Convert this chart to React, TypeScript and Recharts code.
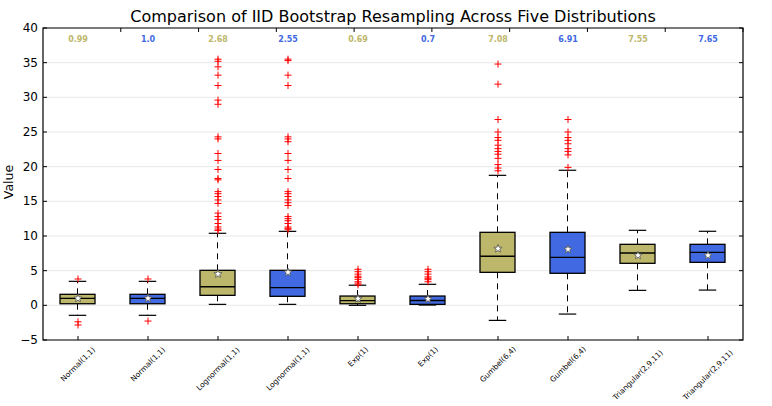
import {
  ComposedChart,
  Bar,
  Scatter,
  XAxis,
  YAxis,
  CartesianGrid,
  ReferenceArea,
} from 'recharts';

const categories = [
  'Normal(1,1)', 'Normal(1,1)', 'Lognormal(1,1)', 'Lognormal(1,1)', 'Exp(1)',
  'Exp(1)', 'Gumbel(6,4)', 'Gumbel(6,4)', 'Triangular(2,9,11)', 'Triangular(2,9,11)',
];
const medians = [0.99, 1.0, 2.68, 2.55, 0.69, 0.7, 7.08, 6.91, 7.55, 7.65];
const medianText = ['0.99', '1.0', '2.68', '2.55', '0.69', '0.7', '7.08', '6.91', '7.55', '7.65'];
const q1 = [0.23, 0.23, 1.44, 1.3, 0.23, 0.14, 4.76, 4.62, 6.06, 6.2];
const q3 = [1.59, 1.59, 5.05, 5.05, 1.34, 1.34, 10.53, 10.53, 8.8, 8.8];
const whiskerLow = [-1.44, -1.44, 0.14, 0.14, 0.0, 0.04, -2.17, -1.26, 2.16, 2.2];
const whiskerHigh = [3.46, 3.46, 10.39, 10.67, 2.9, 3.03, 18.75, 19.48, 10.82, 10.68];
const means = [1.0, 1.0, 4.52, 4.76, 0.95, 0.92, 8.17, 8.08, 7.2, 7.2];
const outliers: number[][] = [
  [3.8, -2.37, -2.84],
  [3.8, -2.27],
  [35.5, 35.2, 34.4, 33.2, 31.7, 29.6, 29.0, 24.3, 24.0, 21.9, 20.9, 19.6, 18.3, 18.1,
    16.4, 16.1, 15.7, 15.2, 14.7, 13.3, 12.8, 12.4, 11.8, 11.3, 11.0, 10.8],
  [35.5, 35.3, 33.2, 31.7, 24.3, 24.0, 23.6, 21.9, 20.9, 19.6, 18.3, 16.4, 16.1, 15.7,
    15.2, 14.8, 14.4, 12.8, 12.5, 12.2, 11.8, 11.3, 11.1, 10.9],
  [5.2, 4.85, 4.5, 4.2, 4.0, 3.75, 3.4, 3.2, 2.95],
  [5.2, 4.85, 4.5, 4.1, 3.9, 3.7, 3.4],
  [34.8, 31.9, 26.8, 25.0, 24.2, 23.8, 23.1, 22.6, 22.2, 21.8, 21.2, 20.3, 19.8, 19.4],
  [26.8, 25.0, 24.2, 23.8, 23.3, 22.6, 22.2, 21.7, 19.9],
  [],
  [],
];
const boxColors = ['#BDB76B', '#4169E1'];
const yTicks = [-5, 0, 5, 10, 15, 20, 25, 30, 35, 40];
const positions = categories.map((_, i) => i + 1);
const labelLevel = 38.4;

const FONT = '"DejaVu Sans", sans-serif';

const boxes = positions.map((pos, i) => ({
  pos,
  whisker: [whiskerLow[i], whiskerHigh[i]],
  q1: q1[i],
  q3: q3[i],
  median: medians[i],
  color: boxColors[i % 2],
}));
const outlierPoints = outliers.flatMap((list, i) => list.map((value) => ({ pos: i + 1, value })));
const meanPoints = positions.map((pos, i) => ({ pos, value: means[i] }));
const medianLabels = positions.map((pos, i) => ({
  pos,
  value: labelLevel,
  text: medianText[i],
  color: boxColors[i % 2],
}));

const BoxShape = (props: any) => {
  const { x, y, width, height, payload } = props;
  const [lo, hi] = payload.whisker;
  const k = height / (hi - lo);
  const py = (v: number) => y + (hi - v) * k;
  const cx = x + width / 2;
  const cap = width / 4;
  return (
    <g>
      <line x1={cx} x2={cx} y1={py(payload.q3)} y2={py(hi)} stroke="#000" strokeDasharray="6 5" />
      <line x1={cx} x2={cx} y1={py(payload.q1)} y2={py(lo)} stroke="#000" strokeDasharray="6 5" />
      <line x1={cx - cap} x2={cx + cap} y1={py(hi)} y2={py(hi)} stroke="#000" strokeWidth={1.2} />
      <line x1={cx - cap} x2={cx + cap} y1={py(lo)} y2={py(lo)} stroke="#000" strokeWidth={1.2} />
      <rect
        x={x}
        y={py(payload.q3)}
        width={width}
        height={py(payload.q1) - py(payload.q3)}
        fill={payload.color}
        stroke="#000"
        strokeWidth={1.3}
      />
      <line x1={x} x2={x + width} y1={py(payload.median)} y2={py(payload.median)} stroke="#000" strokeWidth={1.3} />
    </g>
  );
};

const PlusShape = ({ cx, cy }: any) => (
  <g stroke="#ff0000" strokeWidth={1}>
    <line x1={cx - 3.5} x2={cx + 3.5} y1={cy} y2={cy} />
    <line x1={cx} x2={cx} y1={cy - 3.5} y2={cy + 3.5} />
  </g>
);

const StarShape = ({ cx, cy }: any) => {
  const pts: string[] = [];
  for (let i = 0; i < 10; i++) {
    const r = i % 2 === 0 ? 4.3 : 1.8;
    const a = -Math.PI / 2 + (i * Math.PI) / 5;
    pts.push(`${cx + r * Math.cos(a)},${cy + r * Math.sin(a)}`);
  }
  return <polygon points={pts.join(' ')} fill="#ffffff" stroke="#555" strokeWidth={0.8} />;
};

const LabelShape = ({ cx, cy, payload }: any) => (
  <text
    x={cx}
    y={cy}
    textAnchor="middle"
    dominantBaseline="central"
    fontSize={8}
    fontWeight="bold"
    fontFamily={FONT}
    fill={payload.color}
  >
    {payload.text}
  </text>
);

const fmt = (v: number) => (v < 0 ? `\u2212${Math.abs(v)}` : String(v));

const YTick = ({ x, y, payload }: any) => (
  <g>
    <line x1={x} x2={x + 4} y1={y} y2={y} stroke="#000" />
    <text x={x - 5} y={y} textAnchor="end" dominantBaseline="central" fontSize={12} fontFamily={FONT} fill="#000">
      {fmt(payload.value)}
    </text>
  </g>
);

const YTickRight = ({ x, y }: any) => <line x1={x} x2={x - 4} y1={y} y2={y} stroke="#000" />;

const XTickTop = ({ x, y }: any) => <line x1={x} x2={x} y1={y} y2={y + 4} stroke="#000" />;

const XTick = ({ x, y, payload }: any) => {
  const label = categories[payload.value - 1] ?? '';
  const fs = 7.5;
  const len = label.length * 4.3;
  const h = (len + fs) * Math.SQRT1_2;
  const cy = y + 5 + h / 2;
  return (
    <g>
      <line x1={x} x2={x} y1={y} y2={y - 4} stroke="#000" />
      <text
        x={x}
        y={cy}
        textAnchor="middle"
        dominantBaseline="central"
        transform={`rotate(-45 ${x} ${cy})`}
        fontSize={fs}
        fontFamily={FONT}
        fill="#000"
      >
        {label}
      </text>
    </g>
  );
};

export default function App() {
  return (
    <div style={{ position: 'relative', width: 772, height: 406, background: '#fff' }}>
      <style>{'body{margin:0}'}</style>
      <ComposedChart
        width={772}
        height={406}
        data={boxes}
        margin={{ top: 27, right: 28, left: 0, bottom: 0 }}
        barSize={35}
      >
        <CartesianGrid vertical={false} stroke="#e8e8e8" />
        <XAxis
          dataKey="pos"
          type="number"
          domain={[0.5, 10.5]}
          ticks={positions}
          interval={0}
          allowDataOverflow
          axisLine={false}
          tickLine={false}
          tickSize={0}
          tickMargin={0}
          height={66}
          tick={<XTick />}
        />
        <XAxis
          xAxisId="top"
          orientation="top"
          type="number"
          domain={[0.5, 10.5]}
          ticks={positions}
          interval={0}
          allowDataOverflow
          axisLine={false}
          tickLine={false}
          tickSize={0}
          tickMargin={0}
          height={1}
          tick={<XTickTop />}
        />
        <YAxis
          type="number"
          domain={[-5, 40]}
          ticks={yTicks}
          interval={0}
          allowDataOverflow
          axisLine={false}
          tickLine={false}
          tickSize={0}
          tickMargin={0}
          width={43}
          tick={<YTick />}
        />
        <YAxis
          yAxisId="right"
          orientation="right"
          type="number"
          domain={[-5, 40]}
          ticks={yTicks}
          interval={0}
          allowDataOverflow
          axisLine={false}
          tickLine={false}
          tickSize={0}
          tickMargin={0}
          width={1}
          tick={<YTickRight />}
        />
        <Bar dataKey="whisker" shape={<BoxShape />} isAnimationActive={false} />
        <Scatter data={outlierPoints} dataKey="value" shape={<PlusShape />} isAnimationActive={false} />
        <Scatter data={meanPoints} dataKey="value" shape={<StarShape />} isAnimationActive={false} />
        <Scatter data={medianLabels} dataKey="value" shape={<LabelShape />} isAnimationActive={false} />
        <ReferenceArea x1={0.5} x2={10.5} y1={-5} y2={40} fill="none" stroke="#000" strokeWidth={1.2} />
      </ComposedChart>
      <svg
        width={772}
        height={406}
        style={{ position: 'absolute', left: 0, top: 0, pointerEvents: 'none' }}
      >
        <text x={393} y={22} textAnchor="middle" fontSize={16} fontFamily={FONT} fill="#000">
          Comparison of IID Bootstrap Resampling Across Five Distributions
        </text>
        <text
          x={13}
          y={182}
          textAnchor="middle"
          transform="rotate(-90 13 182)"
          fontSize={12.5}
          fontFamily={FONT}
          fill="#000"
        >
          Value
        </text>
      </svg>
    </div>
  );
}
